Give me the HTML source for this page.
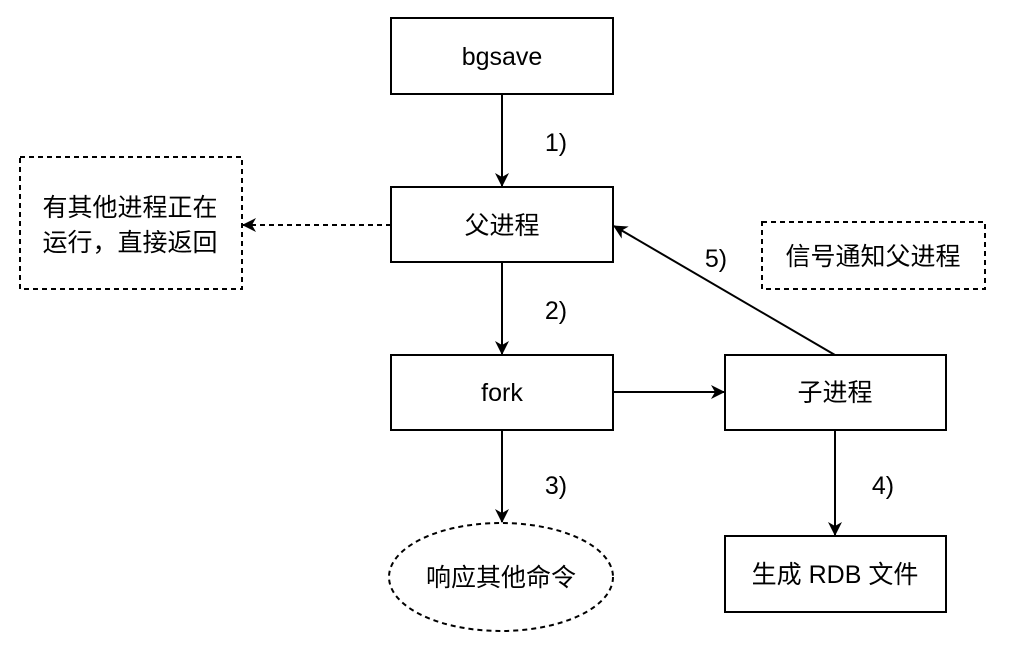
<!DOCTYPE html>
<html><head><meta charset="utf-8"><style>body{margin:0;background:#fff}</style></head><body>
<svg width="1026" height="653" viewBox="0 0 1026 653" xmlns="http://www.w3.org/2000/svg" font-family="Liberation Sans, Noto Sans CJK SC, sans-serif" font-size="25">
<defs><marker id="a" markerWidth="10" markerHeight="10" refX="9" refY="5" orient="auto" markerUnits="userSpaceOnUse" viewBox="0 0 10 10"><path d="M0,0 L10,5 L0,10 L3,5 z" fill="#000"/></marker>
<marker id="b" markerWidth="14" markerHeight="14" refX="13" refY="7" orient="auto" markerUnits="userSpaceOnUse" viewBox="0 0 14 14"><path d="M0,0 L14,7 L0,14 L4,7 z" fill="#000"/></marker></defs>
<g fill="#fff" stroke="#000" stroke-width="2">
<rect x="391" y="18" width="222" height="76"/>
<rect x="391" y="187" width="222" height="75"/>
<rect x="391" y="355" width="222" height="75"/>
<rect x="725" y="355" width="221" height="75"/>
<rect x="725" y="536" width="221" height="76"/>
<rect x="20" y="157" width="222" height="132" stroke-dasharray="5,4"/>
<rect x="762" y="222" width="223" height="67" stroke-dasharray="5,4"/>
<ellipse cx="501" cy="577" rx="112" ry="54" stroke-dasharray="5,4"/>
</g>
<g stroke="#000" stroke-width="2" fill="none">
<line x1="502" y1="94" x2="502" y2="186" marker-end="url(#b)"/>
<line x1="502" y1="262" x2="502" y2="354" marker-end="url(#b)"/>
<line x1="502" y1="430" x2="502" y2="522" marker-end="url(#b)"/>
<line x1="835" y1="430" x2="835" y2="535" marker-end="url(#b)"/>
<line x1="613" y1="392" x2="724" y2="392" marker-end="url(#b)"/>
<line x1="835" y1="355" x2="614" y2="226" marker-end="url(#b)"/>
<line x1="391" y1="225" x2="243" y2="225" stroke-dasharray="5,4" marker-end="url(#b)"/>
</g>
<g fill="#000" text-anchor="middle">
<text x="502" y="65">bgsave</text>
<text x="502" y="234">父进程</text>
<text x="502" y="401">fork</text>
<text x="835" y="401">子进程</text>
<text x="835" y="583">生成 RDB 文件</text>
<text x="501" y="586">响应其他命令</text>
<text x="130" y="216">有其他进程正在</text>
<text x="130" y="251">运行，直接返回</text>
<text x="873" y="265">信号通知父进程</text>
<text x="556" y="151">1)</text>
<text x="556" y="319">2)</text>
<text x="556" y="494">3)</text>
<text x="883" y="494">4)</text>
<text x="716" y="267">5)</text>
</g>
</svg>
</body></html>
